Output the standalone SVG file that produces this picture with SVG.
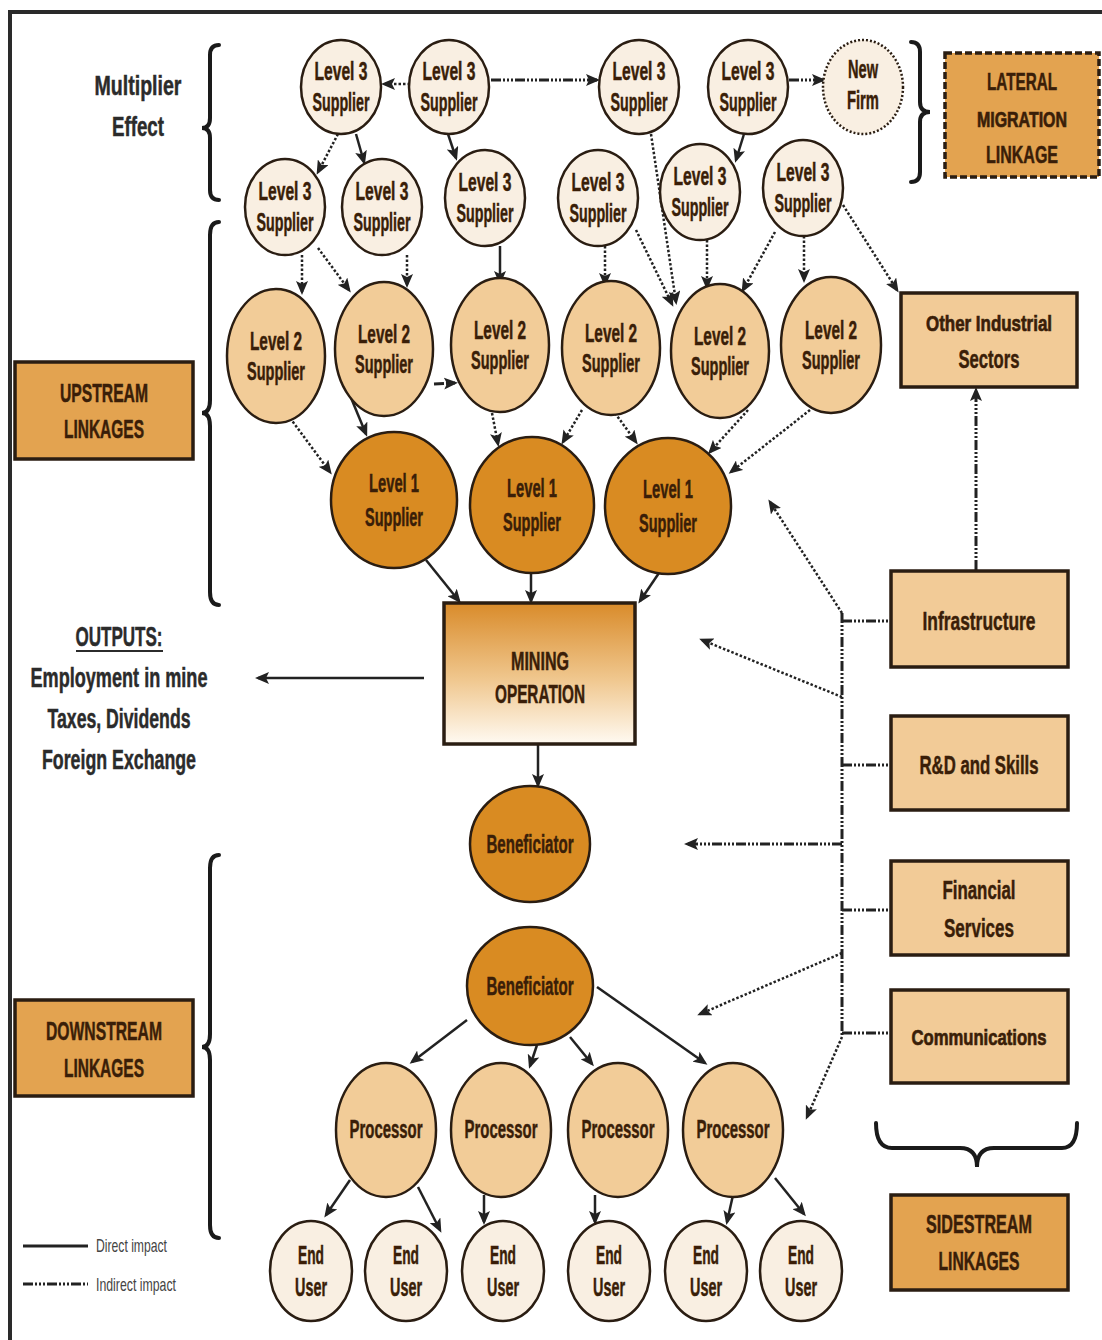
<svg xmlns="http://www.w3.org/2000/svg" width="1102" height="1340" viewBox="0 0 1102 1340">
<defs>
<style>
.n3{fill:#f9efe2;stroke:#2a1d12;stroke-width:2.5}
.n2{fill:#f2cc98;stroke:#2a1d12;stroke-width:2.5}
.n1{fill:#d98b22;stroke:#2a1d12;stroke-width:2.5}
.lab{fill:#e3a350;stroke:#2a1d12;stroke-width:3.5}
.side{fill:#f2cb97;stroke:#2a1d12;stroke-width:3.5}
.t{font-family:"Liberation Sans Narrow","Liberation Sans",Arial,sans-serif;font-weight:bold;fill:#3a1e08;stroke:#3a1e08;stroke-width:0.5;text-anchor:middle;font-size:25px}
.tb{font-family:"Liberation Sans Narrow","Liberation Sans",Arial,sans-serif;font-weight:bold;fill:#3a1e08;stroke:#3a1e08;stroke-width:0.5;text-anchor:middle;font-size:26px}
.ts{font-size:24px}
.tx{font-size:22px;stroke-width:0.7}
.tk{font-family:"Liberation Sans Narrow","Liberation Sans",Arial,sans-serif;font-weight:bold;fill:#2b2b2b;stroke:#2b2b2b;stroke-width:0.5;text-anchor:middle;font-size:28px}
.lg{font-family:"Liberation Sans Narrow","Liberation Sans",Arial,sans-serif;fill:#444;font-size:19px}
.sol{stroke:#222;stroke-width:2.5;fill:none;marker-end:url(#ah)}
.dot{stroke:#222;stroke-width:2.5;fill:none;stroke-dasharray:2.5 2;marker-end:url(#ah)}
.dd{stroke:#222;stroke-width:3;fill:none;stroke-dasharray:10 2 2 2 2 2 2 2}
.dda{stroke:#222;stroke-width:3;fill:none;stroke-dasharray:10 2 2 2 2 2 2 2;marker-end:url(#ah)}
.br{stroke:#1a1a1a;stroke-width:4;fill:none;stroke-linecap:round}
</style>
<marker id="ah" viewBox="0 0 14 12" refX="11" refY="6" markerWidth="14" markerHeight="12" markerUnits="userSpaceOnUse" orient="auto">
<path d="M0,0 L14,6 L0,12 L3,6 z" fill="#222"/>
</marker>
<linearGradient id="mg" x1="0" y1="0" x2="0" y2="1">
<stop offset="0" stop-color="#d98b2a"/>
<stop offset="0.55" stop-color="#f0c890"/>
<stop offset="1" stop-color="#fffaf2"/>
</linearGradient>
</defs>
<rect width="1102" height="1340" fill="#fff"/>
<path d="M10,1340 V12 H1102" stroke="#2a2a2a" stroke-width="4" fill="none"/>

<g id="braces">
<path class="br" d="M219,45 Q210,45 210,55 L210,118 Q210,128 202,128 Q210,128 210,138 L210,190 Q210,200 219,200"/>
<path class="br" d="M219,222 Q210,222 210,235 L210,400 Q210,413 202,413 Q210,413 210,426 L210,592 Q210,605 219,605"/>
<path class="br" d="M219,855 Q210,855 210,868 L210,1034 Q210,1047 202,1047 Q210,1047 210,1060 L210,1225 Q210,1238 219,1238"/>
<path class="br" d="M911,42 Q920,42 920,52 L920,102 Q920,112 930,112 Q920,112 920,122 L920,172 Q920,182 911,182"/>
<path class="br" stroke-width="6" d="M876,1123 Q876,1148 892,1148 L960,1148 Q977,1148 977,1167 Q977,1148 994,1148 L1062,1148 Q1077,1148 1077,1123"/>
</g>

<g id="connectors">
<line class="dot" x1="410" y1="84" x2="384" y2="84"/>
<line class="dda" x1="491" y1="80" x2="597" y2="80"/>
<line class="dda" x1="789" y1="80" x2="823" y2="80"/>
<line class="dot" x1="338" y1="134" x2="318" y2="172"/>
<line class="sol" x1="356" y1="134" x2="364" y2="162"/>
<line class="sol" x1="448" y1="134" x2="456" y2="158"/>
<line class="sol" x1="744" y1="134" x2="736" y2="160"/>
<line class="dot" x1="651" y1="134" x2="676" y2="302"/>
<line class="dot" x1="302" y1="255" x2="302" y2="292"/>
<line class="dot" x1="318" y1="248" x2="349" y2="290"/>
<line class="dot" x1="407" y1="255" x2="407" y2="285"/>
<line class="sol" x1="500" y1="246" x2="500" y2="282"/>
<line class="dot" x1="605" y1="246" x2="605" y2="284"/>
<line class="dot" x1="636" y1="230" x2="672" y2="304"/>
<line class="dot" x1="707" y1="240" x2="707" y2="287"/>
<line class="dot" x1="775" y1="232" x2="743" y2="290"/>
<line class="dot" x1="804" y1="236" x2="804" y2="280"/>
<line class="dot" x1="843" y1="205" x2="897" y2="290"/>
<line class="dot" x1="290" y1="418" x2="330" y2="472"/>
<line class="sol" x1="349" y1="393" x2="366" y2="434"/>
<line class="dda" x1="434" y1="384" x2="455" y2="383"/>
<line class="dot" x1="492" y1="413" x2="498" y2="444"/>
<line class="dot" x1="582" y1="410" x2="563" y2="442"/>
<line class="dot" x1="615" y1="413" x2="636" y2="442"/>
<line class="dot" x1="748" y1="410" x2="710" y2="452"/>
<line class="dot" x1="810" y1="410" x2="731" y2="472"/>
<line class="sol" x1="426" y1="560" x2="459" y2="601"/>
<line class="sol" x1="531" y1="573" x2="531" y2="601"/>
<line class="sol" x1="661" y1="570" x2="640" y2="601"/>
<line class="sol" x1="424" y1="678" x2="258" y2="678"/>
<line class="sol" x1="538" y1="745" x2="538" y2="785"/>
<line class="sol" x1="467" y1="1020" x2="412" y2="1062"/>
<line class="sol" x1="537" y1="1045" x2="530" y2="1066"/>
<line class="sol" x1="570" y1="1037" x2="592" y2="1064"/>
<line class="sol" x1="597" y1="987" x2="705" y2="1063"/>
<line class="sol" x1="350" y1="1180" x2="326" y2="1215"/>
<line class="sol" x1="418" y1="1187" x2="440" y2="1230"/>
<line class="sol" x1="484" y1="1195" x2="484" y2="1222"/>
<line class="sol" x1="595" y1="1195" x2="595" y2="1222"/>
<line class="sol" x1="733" y1="1195" x2="727" y2="1222"/>
<line class="sol" x1="775" y1="1178" x2="804" y2="1214"/>
<line class="dd" x1="842" y1="613" x2="842" y2="1037"/>
<line class="dd" x1="842" y1="621" x2="891" y2="621"/>
<line class="dd" x1="842" y1="765" x2="891" y2="765"/>
<line class="dd" x1="842" y1="910" x2="891" y2="910"/>
<line class="dd" x1="842" y1="1033" x2="891" y2="1033"/>
<line class="dot" x1="842" y1="613" x2="770" y2="502"/>
<line class="dot" x1="842" y1="697" x2="702" y2="640"/>
<line class="dda" x1="842" y1="844" x2="687" y2="844"/>
<line class="dot" x1="842" y1="953" x2="700" y2="1014"/>
<line class="dot" x1="842" y1="1037" x2="807" y2="1117"/>
<line class="dda" x1="976" y1="570" x2="976" y2="390"/>
</g>

<g id="multiplier-label"><text class="tk" x="138" y="95" textLength="87" lengthAdjust="spacingAndGlyphs">Multiplier</text><text class="tk" x="138" y="136" textLength="52" lengthAdjust="spacingAndGlyphs">Effect</text></g>

<g id="l3a"><ellipse class="n3" cx="341" cy="87" rx="40" ry="47"/><text class="t" x="341" y="80" textLength="53" lengthAdjust="spacingAndGlyphs">Level 3</text><text class="t" x="341" y="111" textLength="57" lengthAdjust="spacingAndGlyphs">Supplier</text></g>
<g id="l3b"><ellipse class="n3" cx="449" cy="87" rx="40" ry="47"/><text class="t" x="449" y="80" textLength="53" lengthAdjust="spacingAndGlyphs">Level 3</text><text class="t" x="449" y="111" textLength="57" lengthAdjust="spacingAndGlyphs">Supplier</text></g>
<g id="l3c"><ellipse class="n3" cx="639" cy="87" rx="40" ry="47"/><text class="t" x="639" y="80" textLength="53" lengthAdjust="spacingAndGlyphs">Level 3</text><text class="t" x="639" y="111" textLength="57" lengthAdjust="spacingAndGlyphs">Supplier</text></g>
<g id="l3d"><ellipse class="n3" cx="748" cy="87" rx="40" ry="47"/><text class="t" x="748" y="80" textLength="53" lengthAdjust="spacingAndGlyphs">Level 3</text><text class="t" x="748" y="111" textLength="57" lengthAdjust="spacingAndGlyphs">Supplier</text></g>
<g id="newfirm"><ellipse class="n3" cx="863" cy="87" rx="40" ry="47" stroke-dasharray="2 2"/><text class="t" x="863" y="78" textLength="30" lengthAdjust="spacingAndGlyphs">New</text><text class="t" x="863" y="109" textLength="32" lengthAdjust="spacingAndGlyphs">Firm</text></g>
<g id="lateral"><rect class="lab" x="945" y="53" width="154" height="124" stroke-dasharray="7 3"/><text class="tb ts" x="1022" y="90" textLength="70" lengthAdjust="spacingAndGlyphs">LATERAL</text><text class="tb tx" x="1022" y="127" textLength="90" lengthAdjust="spacingAndGlyphs">MIGRATION</text><text class="tb ts" x="1022" y="163" textLength="72" lengthAdjust="spacingAndGlyphs">LINKAGE</text></g>

<g id="l3e"><ellipse class="n3" cx="285" cy="207" rx="40" ry="48"/><text class="t" x="285" y="200" textLength="53" lengthAdjust="spacingAndGlyphs">Level 3</text><text class="t" x="285" y="231" textLength="57" lengthAdjust="spacingAndGlyphs">Supplier</text></g>
<g id="l3f"><ellipse class="n3" cx="382" cy="207" rx="40" ry="48"/><text class="t" x="382" y="200" textLength="53" lengthAdjust="spacingAndGlyphs">Level 3</text><text class="t" x="382" y="231" textLength="57" lengthAdjust="spacingAndGlyphs">Supplier</text></g>
<g id="l3g"><ellipse class="n3" cx="485" cy="198" rx="40" ry="48"/><text class="t" x="485" y="191" textLength="53" lengthAdjust="spacingAndGlyphs">Level 3</text><text class="t" x="485" y="222" textLength="57" lengthAdjust="spacingAndGlyphs">Supplier</text></g>
<g id="l3h"><ellipse class="n3" cx="598" cy="198" rx="40" ry="48"/><text class="t" x="598" y="191" textLength="53" lengthAdjust="spacingAndGlyphs">Level 3</text><text class="t" x="598" y="222" textLength="57" lengthAdjust="spacingAndGlyphs">Supplier</text></g>
<g id="l3i"><ellipse class="n3" cx="700" cy="192" rx="40" ry="48"/><text class="t" x="700" y="185" textLength="53" lengthAdjust="spacingAndGlyphs">Level 3</text><text class="t" x="700" y="216" textLength="57" lengthAdjust="spacingAndGlyphs">Supplier</text></g>
<g id="l3j"><ellipse class="n3" cx="803" cy="188" rx="40" ry="48"/><text class="t" x="803" y="181" textLength="53" lengthAdjust="spacingAndGlyphs">Level 3</text><text class="t" x="803" y="212" textLength="57" lengthAdjust="spacingAndGlyphs">Supplier</text></g>

<g id="l2k"><ellipse class="n2" cx="276" cy="356" rx="49" ry="67"/><text class="t" x="276" y="350" textLength="52" lengthAdjust="spacingAndGlyphs">Level 2</text><text class="t" x="276" y="380" textLength="58" lengthAdjust="spacingAndGlyphs">Supplier</text></g>
<g id="l2l"><ellipse class="n2" cx="384" cy="349" rx="49" ry="67"/><text class="t" x="384" y="343" textLength="52" lengthAdjust="spacingAndGlyphs">Level 2</text><text class="t" x="384" y="373" textLength="58" lengthAdjust="spacingAndGlyphs">Supplier</text></g>
<g id="l2m"><ellipse class="n2" cx="500" cy="345" rx="49" ry="67"/><text class="t" x="500" y="339" textLength="52" lengthAdjust="spacingAndGlyphs">Level 2</text><text class="t" x="500" y="369" textLength="58" lengthAdjust="spacingAndGlyphs">Supplier</text></g>
<g id="l2n"><ellipse class="n2" cx="611" cy="348" rx="49" ry="67"/><text class="t" x="611" y="342" textLength="52" lengthAdjust="spacingAndGlyphs">Level 2</text><text class="t" x="611" y="372" textLength="58" lengthAdjust="spacingAndGlyphs">Supplier</text></g>
<g id="l2o"><ellipse class="n2" cx="720" cy="351" rx="49" ry="67"/><text class="t" x="720" y="345" textLength="52" lengthAdjust="spacingAndGlyphs">Level 2</text><text class="t" x="720" y="375" textLength="58" lengthAdjust="spacingAndGlyphs">Supplier</text></g>
<g id="l2p"><ellipse class="n2" cx="831" cy="345" rx="50" ry="68"/><text class="t" x="831" y="339" textLength="52" lengthAdjust="spacingAndGlyphs">Level 2</text><text class="t" x="831" y="369" textLength="58" lengthAdjust="spacingAndGlyphs">Supplier</text></g>
<g id="other-industrial"><rect class="side" x="901" y="293" width="176" height="94"/><text class="tb tx" x="989" y="331" textLength="126" lengthAdjust="spacingAndGlyphs">Other Industrial</text><text class="tb" x="989" y="368" textLength="61" lengthAdjust="spacingAndGlyphs">Sectors</text></g>

<g id="upstream"><rect class="lab" x="15" y="362" width="178" height="97"/><text class="tb" x="104" y="402" textLength="88" lengthAdjust="spacingAndGlyphs">UPSTREAM</text><text class="tb" x="104" y="438" textLength="80" lengthAdjust="spacingAndGlyphs">LINKAGES</text></g>

<g id="l1q"><ellipse class="n1" cx="394" cy="500" rx="63" ry="68"/><text class="t" x="394" y="492" textLength="50" lengthAdjust="spacingAndGlyphs">Level 1</text><text class="t" x="394" y="526" textLength="58" lengthAdjust="spacingAndGlyphs">Supplier</text></g>
<g id="l1r"><ellipse class="n1" cx="532" cy="505" rx="62" ry="68"/><text class="t" x="532" y="497" textLength="50" lengthAdjust="spacingAndGlyphs">Level 1</text><text class="t" x="532" y="531" textLength="58" lengthAdjust="spacingAndGlyphs">Supplier</text></g>
<g id="l1s"><ellipse class="n1" cx="668" cy="506" rx="63" ry="68"/><text class="t" x="668" y="498" textLength="50" lengthAdjust="spacingAndGlyphs">Level 1</text><text class="t" x="668" y="532" textLength="58" lengthAdjust="spacingAndGlyphs">Supplier</text></g>

<g id="mining"><rect x="444" y="603" width="191" height="141" fill="url(#mg)" stroke="#2a1d12" stroke-width="3.5"/><text class="tb" x="540" y="670" textLength="58" lengthAdjust="spacingAndGlyphs">MINING</text><text class="tb" x="540" y="703" textLength="90" lengthAdjust="spacingAndGlyphs">OPERATION</text></g>

<g id="outputs"><text class="tk" x="119" y="646" textLength="87" lengthAdjust="spacingAndGlyphs">OUTPUTS:</text><line x1="76" y1="651" x2="163" y2="651" stroke="#2b2b2b" stroke-width="2"/><text class="tk" x="119" y="687" textLength="177" lengthAdjust="spacingAndGlyphs">Employment in mine</text><text class="tk" x="119" y="728" textLength="143" lengthAdjust="spacingAndGlyphs">Taxes, Dividends</text><text class="tk" x="119" y="769" textLength="154" lengthAdjust="spacingAndGlyphs">Foreign Exchange</text></g>

<g id="infrastructure"><rect class="side" x="891" y="571" width="177" height="96"/><text class="tb" x="979" y="630" textLength="113" lengthAdjust="spacingAndGlyphs">Infrastructure</text></g>
<g id="rd"><rect class="side" x="891" y="716" width="177" height="94"/><text class="tb" x="979" y="774" textLength="119" lengthAdjust="spacingAndGlyphs">R&amp;D and Skills</text></g>
<g id="financial"><rect class="side" x="891" y="861" width="177" height="94"/><text class="tb" x="979" y="899" textLength="73" lengthAdjust="spacingAndGlyphs">Financial</text><text class="tb" x="979" y="937" textLength="70" lengthAdjust="spacingAndGlyphs">Services</text></g>
<g id="communications"><rect class="side" x="891" y="990" width="177" height="93"/><text class="tb tx" x="979" y="1045" textLength="135" lengthAdjust="spacingAndGlyphs">Communications</text></g>
<g id="sidestream"><rect class="lab" x="891" y="1195" width="177" height="95"/><text class="tb" x="979" y="1233" textLength="106" lengthAdjust="spacingAndGlyphs">SIDESTREAM</text><text class="tb" x="979" y="1270" textLength="81" lengthAdjust="spacingAndGlyphs">LINKAGES</text></g>

<g id="ben1"><ellipse class="n1" cx="530" cy="844" rx="60" ry="58"/><text class="t" x="530" y="853" textLength="87" lengthAdjust="spacingAndGlyphs">Beneficiator</text></g>
<g id="ben2"><ellipse class="n1" cx="530" cy="986" rx="63" ry="59"/><text class="t" x="530" y="995" textLength="87" lengthAdjust="spacingAndGlyphs">Beneficiator</text></g>
<g id="downstream"><rect class="lab" x="15" y="1000" width="178" height="96"/><text class="tb" x="104" y="1040" textLength="116" lengthAdjust="spacingAndGlyphs">DOWNSTREAM</text><text class="tb" x="104" y="1077" textLength="80" lengthAdjust="spacingAndGlyphs">LINKAGES</text></g>

<g id="p1"><ellipse class="n2" cx="386" cy="1130" rx="50" ry="67"/><text class="t" x="386" y="1138" textLength="73" lengthAdjust="spacingAndGlyphs">Processor</text></g>
<g id="p2"><ellipse class="n2" cx="501" cy="1130" rx="50" ry="67"/><text class="t" x="501" y="1138" textLength="73" lengthAdjust="spacingAndGlyphs">Processor</text></g>
<g id="p3"><ellipse class="n2" cx="618" cy="1130" rx="50" ry="67"/><text class="t" x="618" y="1138" textLength="73" lengthAdjust="spacingAndGlyphs">Processor</text></g>
<g id="p4"><ellipse class="n2" cx="733" cy="1130" rx="50" ry="67"/><text class="t" x="733" y="1138" textLength="73" lengthAdjust="spacingAndGlyphs">Processor</text></g>

<g id="eu1"><ellipse class="n3" cx="311" cy="1271" rx="41" ry="50"/><text class="t" x="311" y="1264" textLength="26" lengthAdjust="spacingAndGlyphs">End</text><text class="t" x="311" y="1296" textLength="32" lengthAdjust="spacingAndGlyphs">User</text></g>
<g id="eu2"><ellipse class="n3" cx="406" cy="1271" rx="41" ry="50"/><text class="t" x="406" y="1264" textLength="26" lengthAdjust="spacingAndGlyphs">End</text><text class="t" x="406" y="1296" textLength="32" lengthAdjust="spacingAndGlyphs">User</text></g>
<g id="eu3"><ellipse class="n3" cx="503" cy="1271" rx="41" ry="50"/><text class="t" x="503" y="1264" textLength="26" lengthAdjust="spacingAndGlyphs">End</text><text class="t" x="503" y="1296" textLength="32" lengthAdjust="spacingAndGlyphs">User</text></g>
<g id="eu4"><ellipse class="n3" cx="609" cy="1271" rx="41" ry="50"/><text class="t" x="609" y="1264" textLength="26" lengthAdjust="spacingAndGlyphs">End</text><text class="t" x="609" y="1296" textLength="32" lengthAdjust="spacingAndGlyphs">User</text></g>
<g id="eu5"><ellipse class="n3" cx="706" cy="1271" rx="41" ry="50"/><text class="t" x="706" y="1264" textLength="26" lengthAdjust="spacingAndGlyphs">End</text><text class="t" x="706" y="1296" textLength="32" lengthAdjust="spacingAndGlyphs">User</text></g>
<g id="eu6"><ellipse class="n3" cx="801" cy="1271" rx="41" ry="50"/><text class="t" x="801" y="1264" textLength="26" lengthAdjust="spacingAndGlyphs">End</text><text class="t" x="801" y="1296" textLength="32" lengthAdjust="spacingAndGlyphs">User</text></g>

<g id="legend">
<line x1="23" y1="1246" x2="88" y2="1246" stroke="#222" stroke-width="3"/>
<text class="lg" x="96" y="1252" textLength="71" lengthAdjust="spacingAndGlyphs">Direct impact</text>
<line class="dd" x1="23" y1="1284" x2="88" y2="1284"/>
<text class="lg" x="96" y="1291" textLength="80" lengthAdjust="spacingAndGlyphs">Indirect impact</text>
</g>
</svg>
